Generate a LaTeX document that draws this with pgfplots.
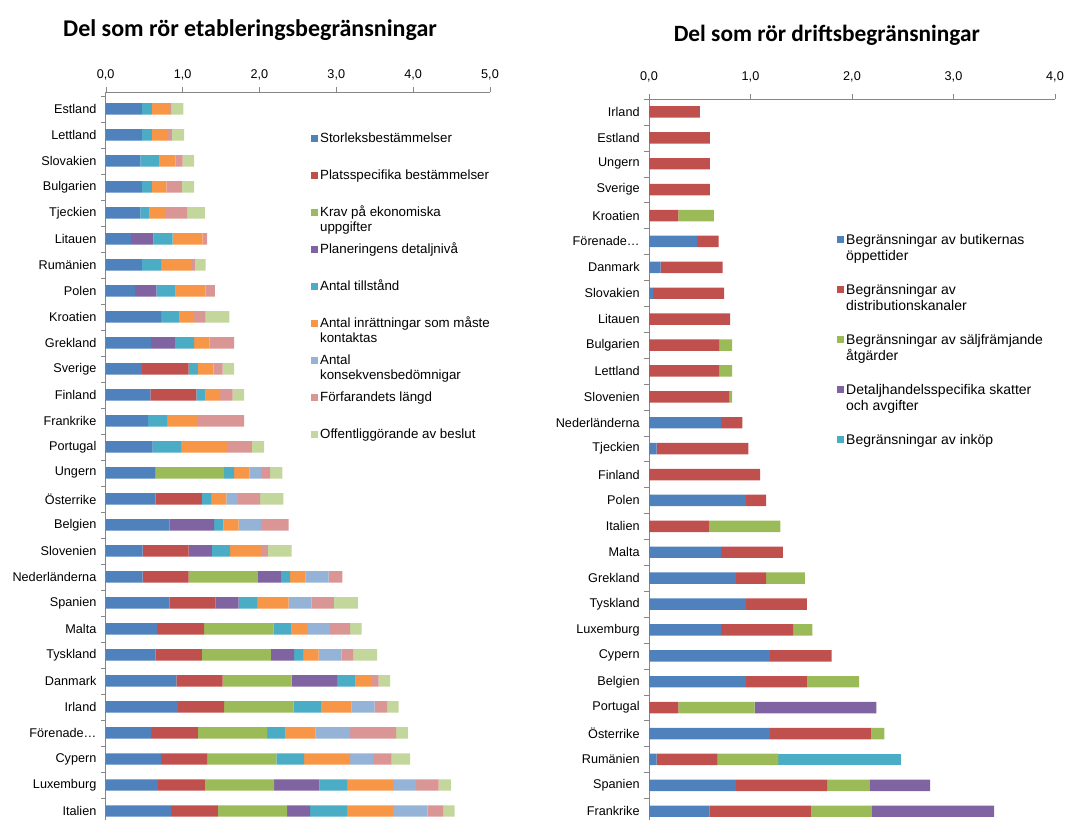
\documentclass[border=0pt]{standalone}
\usepackage{fontspec}
\setmainfont{Liberation Sans}
\newfontfamily\titlefont{Carlito}
\usepackage{pgfplots}
\usepackage{pgfplotstable}
\pgfplotsset{compat=1.18}

\definecolor{c1}{HTML}{4F81BD}
\definecolor{c2}{HTML}{C0504D}
\definecolor{c3}{HTML}{9BBB59}
\definecolor{c4}{HTML}{8064A2}
\definecolor{c5}{HTML}{4BACC6}
\definecolor{c6}{HTML}{F79646}
\definecolor{c7}{HTML}{95B3D7}
\definecolor{c8}{HTML}{D99694}
\definecolor{c9}{HTML}{C3D69B}
\definecolor{axisgray}{HTML}{868686}

\newcommand\twol[2]{\vtop{\hbox{#1}\hbox{#2}}}
\newcommand\fore{Förenade\ldots}

% vänster: etableringsbegränsningar (y=27 överst)
\pgfplotstableread{
y  stor plats krav plan till inr  kons forf off
27 0.47 0    0    0    0.13 0.22 0    0.03 0.16
26 0.47 0    0    0    0.13 0.21 0    0.05 0.16
25 0.45 0    0    0    0.25 0.21 0    0.09 0.15
24 0.47 0    0    0    0.13 0.19 0    0.20 0.16
23 0.45 0    0    0    0.12 0.20 0    0.29 0.23
22 0.33 0    0    0.29 0.25 0.39 0    0.06 0
21 0.47 0    0    0    0.25 0.39 0    0.05 0.14
20 0.38 0    0    0.28 0.25 0.39 0    0.12 0
19 0.72 0    0    0    0.24 0.19 0    0.15 0.31
18 0.59 0    0    0.31 0.25 0.20 0    0.32 0
17 0.47 0.61 0    0    0.12 0.20 0    0.12 0.15
16 0.58 0.60 0    0    0.12 0.19 0    0.16 0.15
15 0.55 0    0    0    0.25 0.40 0    0.60 0
14 0.61 0    0    0    0.37 0.60 0    0.32 0.16
13 0.65 0    0.89 0    0.13 0.20 0.15 0.12 0.16
12 0.65 0.60 0    0    0.12 0.20 0.15 0.29 0.30
11 0.83 0    0    0.58 0.12 0.20 0.29 0.36 0
10 0.48 0.60 0    0.30 0.24 0.40 0    0.09 0.31
9  0.48 0.60 0.90 0.30 0.12 0.20 0.30 0.18 0
8  0.83 0.60 0    0.30 0.24 0.41 0.30 0.29 0.31
7  0.67 0.61 0.90 0    0.24 0.20 0.30 0.26 0.15
6  0.65 0.60 0.90 0.30 0.12 0.20 0.30 0.15 0.31
5  0.92 0.60 0.90 0.59 0.24 0.20 0    0.10 0.15
4  0.94 0.60 0.90 0    0.36 0.40 0.30 0.16 0.15
3  0.59 0.61 0.90 0    0.24 0.39 0.45 0.60 0.15
2  0.72 0.60 0.90 0    0.36 0.60 0.30 0.24 0.24
1  0.68 0.61 0.90 0.59 0.36 0.60 0.30 0.29 0.16
0  0.85 0.61 0.90 0.30 0.48 0.60 0.45 0.20 0.15
}\lefttab

% höger: driftsbegränsningar
\pgfplotstableread{
y  opp   dist  salj  skatt inkop
27 0     0.50  0     0     0
26 0     0.60  0     0     0
25 0     0.60  0     0     0
24 0     0.60  0     0     0
23 0     0.29  0.35  0     0
22 0.475 0.21  0     0     0
21 0.115 0.61  0     0     0
20 0.04  0.70  0     0     0
19 0     0.80  0     0     0
18 0     0.69  0.13  0     0
17 0     0.69  0.13  0     0
16 0     0.79  0.03  0     0
15 0.71  0.21  0     0     0
14 0.075 0.905 0     0     0
13 0     1.095 0     0     0
12 0.955 0.20  0     0     0
11 0     0.59  0.705 0     0
10 0.71  0.61  0     0     0
9  0.855 0.30  0.38  0     0
8  0.955 0.60  0     0     0
7  0.71  0.71  0.19  0     0
6  1.19  0.61  0     0     0
5  0.955 0.60  0.515 0     0
4  0     0.29  0.75  1.20  0
3  1.19  1.00  0.13  0     0
2  0.075 0.60  0.60  0     1.21
1  0.855 0.90  0.415 0.60  0
0  0.595 1.00  0.60  1.205 0
}\righttab

\pgfplotsset{
  sqleg/.style={legend image code/.code={\fill[##1] (0pt,0.6pt) rectangle (5.2pt,5.8pt);}},
  s/.style={fill=#1, draw=none, sqleg},
  hbars/.style={
    scale only axis, xbar stacked, bar width=8.6pt,
    ymin=-0.5, ymax=27.5, xmin=0, enlargelimits=false,
    axis x line*=top, axis y line*=left,
    axis line style={draw=axisgray},
    tick align=outside, major tick length=3.5pt,
    tick style={draw=axisgray},
    scaled x ticks=false,
    tick label style={font=\fontsize{9.5}{11}\selectfont},
    x tick label style={/pgf/number format/fixed, /pgf/number format/fixed zerofill,
      /pgf/number format/precision=1, /pgf/number format/use comma,
      /pgf/number format/assume math mode=true},
    ytick={-0.5,0.5,...,27.5}, yticklabels={},
    extra y ticks={0,...,27},
    extra y tick style={tick style={draw=none}},
    legend cell align=left,
    title style={anchor=center},
  },
}

\begin{document}
\begin{tikzpicture}
\path[use as bounding box] (0,0) rectangle (811.5pt,615pt);

\begin{axis}[hbars,
  at={(79.3pt,-3pt)}, anchor=south west,
  width=288.2pt, height=549pt, ymax=27.65,
  xmax=5, xtick={0,...,5},
  xticklabel style={yshift=1.5pt},
  extra y tick labels={Italien,Luxemburg,Cypern,\fore,Irland,Danmark,Tyskland,Malta,Spanien,Nederländerna,Slovenien,Belgien,Österrike,Ungern,Portugal,Frankrike,Finland,Sverige,Grekland,Kroatien,Polen,Rumänien,Litauen,Tjeckien,Bulgarien,Slovakien,Lettland,Estland},
  title={Del som rör etableringsbegränsningar},
  title style={at={(axis description cs:0.3755,1.0735)},
    font=\titlefont\bfseries\fontsize{18}{21}\selectfont},
  legend style={at={(axis description cs:0.534,0.9458)}, anchor=north west,
    draw=none, fill=none, inner sep=0pt, row sep=0pt, column sep=1.5pt,
    font=\fontsize{10}{11.5}\selectfont,
    cells={anchor=base west},
    nodes={inner sep=0pt, text height=8pt, text depth=19.75pt}},
]
\addplot[s=c1] table[x=stor, y=y] {\lefttab};
\addlegendentry{Storleksbestämmelser}
\addplot[s=c2] table[x=plats, y=y] {\lefttab};
\addlegendentry{Platsspecifika bestämmelser}
\addplot[s=c3] table[x=krav, y=y] {\lefttab};
\addlegendentry{\twol{Krav på ekonomiska}{uppgifter}}
\addplot[s=c4] table[x=plan, y=y] {\lefttab};
\addlegendentry{Planeringens detaljnivå}
\addplot[s=c5] table[x=till, y=y] {\lefttab};
\addlegendentry{Antal tillstånd}
\addplot[s=c6] table[x=inr, y=y] {\lefttab};
\addlegendentry{\twol{Antal inrättningar som måste}{kontaktas}}
\addplot[s=c7] table[x=kons, y=y] {\lefttab};
\addlegendentry{\twol{Antal}{konsekvensbedömnigar}}
\addplot[s=c8] table[x=forf, y=y] {\lefttab};
\addlegendentry{Förfarandets längd}
\addplot[s=c9] table[x=off, y=y] {\lefttab};
\addlegendentry{Offentliggörande av beslut}
\end{axis}

\begin{axis}[hbars,
  at={(486.75pt,-3.15pt)}, anchor=south west,
  width=304.5pt, height=543.9pt,
  xmax=4, xtick={0,...,4},
  xticklabel style={yshift=5.5pt},
  extra y tick labels={Frankrike,Spanien,Rumänien,Österrike,Portugal,Belgien,Cypern,Luxemburg,Tyskland,Grekland,Malta,Italien,Polen,Finland,Tjeckien,Nederländerna,Slovenien,Lettland,Bulgarien,Litauen,Slovakien,Danmark,\fore,Kroatien,Sverige,Ungern,Estland,Irland},
  title={Del som rör driftsbegränsningar},
  title style={at={(axis description cs:0.438,1.077)},
    font=\titlefont\bfseries\fontsize{17.5}{21}\selectfont},
  legend style={at={(axis description cs:0.463,0.815)}, anchor=north west,
    draw=none, fill=none, inner sep=0pt, row sep=0pt, column sep=1.5pt,
    font=\fontsize{10.5}{12}\selectfont,
    cells={anchor=base west},
    nodes={inner sep=0pt, text height=8pt, text depth=29.5pt}},
]
\addplot[s=c1] table[x=opp, y=y] {\righttab};
\addlegendentry{\twol{Begränsningar av butikernas}{öppettider}}
\addplot[s=c2] table[x=dist, y=y] {\righttab};
\addlegendentry{\twol{Begränsningar av}{distributionskanaler}}
\addplot[s=c3] table[x=salj, y=y] {\righttab};
\addlegendentry{\twol{Begränsningar av säljfrämjande}{åtgärder}}
\addplot[s=c4] table[x=skatt, y=y] {\righttab};
\addlegendentry{\twol{Detaljhandelsspecifika skatter}{och avgifter}}
\addplot[s=c5] table[x=inkop, y=y] {\righttab};
\addlegendentry{Begränsningar av inköp}
\end{axis}
\end{tikzpicture}
\end{document}
